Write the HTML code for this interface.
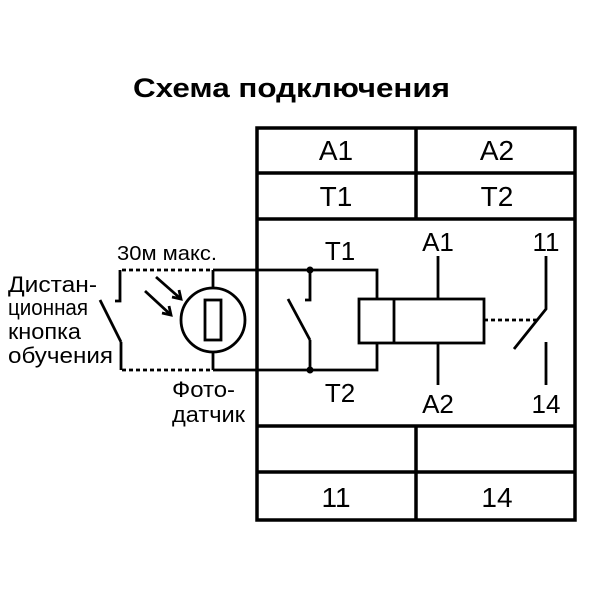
<!DOCTYPE html>
<html><head><meta charset="utf-8"><style>
html,body{margin:0;padding:0;background:#fff;}
svg{display:block;}
text{font-family:"Liberation Sans",Arial,sans-serif;fill:#000;}
</style></head><body>
<svg width="600" height="600" viewBox="0 0 600 600">
<rect width="600" height="600" fill="#fff"/>
<text x="133" y="97" font-size="27" font-weight="bold" textLength="317" lengthAdjust="spacingAndGlyphs">Схема подключения</text>
<g stroke="#000" stroke-width="3.5" fill="none">
<rect x="257" y="128" width="318" height="392"/>
<line x1="257" y1="173" x2="575" y2="173"/>
<line x1="257" y1="219" x2="575" y2="219"/>
<line x1="257" y1="426" x2="575" y2="426"/>
<line x1="257" y1="472" x2="575" y2="472"/>
<line x1="416" y1="128" x2="416" y2="219"/>
<line x1="416" y1="426" x2="416" y2="520"/>
</g>
<g font-size="28" text-anchor="middle">
<text x="336" y="160">A1</text><text x="497" y="160">A2</text>
<text x="336" y="206">T1</text><text x="497" y="206">T2</text>
<text x="336" y="507">11</text><text x="497" y="507">14</text>
</g>
<g stroke="#000" stroke-width="2.8" fill="none">
<polyline points="213,270 377,270 377,299"/>
<polyline points="213,370 377,370 377,343"/>
<line x1="213" y1="270" x2="213" y2="370"/>
<circle cx="213" cy="320" r="32" fill="#fff"/>
<rect x="205" y="300" width="16" height="40" fill="#fff"/>
<polyline points="310,270 310,300 305,300"/>
<line x1="288" y1="299" x2="310" y2="340"/>
<line x1="310" y1="340" x2="310" y2="370"/>
<rect x="359" y="299" width="125" height="44"/>
<line x1="394" y1="299" x2="394" y2="343"/>
<line x1="438" y1="256" x2="438" y2="299"/>
<line x1="438" y1="343" x2="438" y2="385"/>
<polyline points="546,256 546,309 514,349"/>
<line x1="546" y1="342" x2="546" y2="385"/>
<line x1="484" y1="320" x2="538" y2="320" stroke-dasharray="4,3"/>
<line x1="122" y1="270" x2="213" y2="270" stroke-dasharray="4,3"/>
<line x1="122" y1="370" x2="213" y2="370" stroke-dasharray="4,3"/>
<polyline points="120,270 120,301 115,301"/>
<line x1="100" y1="300" x2="121" y2="342"/>
<line x1="121" y1="342" x2="121" y2="370"/>
<line x1="156" y1="277" x2="181" y2="299"/>
<line x1="145" y1="291" x2="171" y2="315"/>
<polyline points="172,297 181,299 179,290"/>
<polyline points="162,313 171,315 169,306"/>
</g>
<circle cx="310" cy="270" r="3.5"/>
<circle cx="310" cy="370" r="3.5"/>
<g font-size="26" text-anchor="middle">
<text x="340" y="260">T1</text><text x="438" y="251">A1</text><text x="546" y="251">11</text>
<text x="340" y="402">T2</text><text x="438" y="413">A2</text><text x="546" y="413">14</text>
</g>
<g font-size="22" lengthAdjust="spacingAndGlyphs">
<text x="8" y="292" textLength="89" lengthAdjust="spacingAndGlyphs">Дистан-</text>
<text x="8" y="315" textLength="80" lengthAdjust="spacingAndGlyphs">ционная</text>
<text x="8" y="339" textLength="73" lengthAdjust="spacingAndGlyphs">кнопка</text>
<text x="8" y="363" textLength="105" lengthAdjust="spacingAndGlyphs">обучения</text>
<text x="117" y="260" font-size="20" textLength="100" lengthAdjust="spacingAndGlyphs">30м макс.</text>
<text x="172" y="397" textLength="63" lengthAdjust="spacingAndGlyphs">Фото-</text>
<text x="172" y="422" textLength="73" lengthAdjust="spacingAndGlyphs">датчик</text>
</g>
</svg>
</body></html>
